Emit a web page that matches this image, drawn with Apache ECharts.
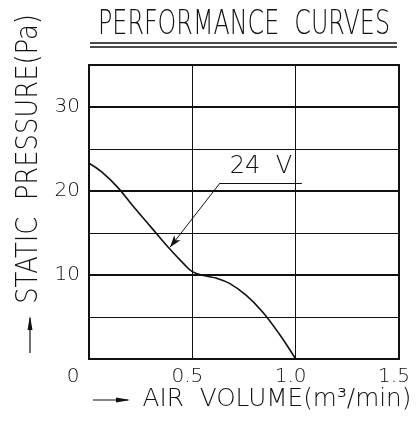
<!DOCTYPE html>
<html lang="en">
<head>
    <meta charset="UTF-8">
    <title>Performance curves</title>
    <script src="https://cdn.jsdelivr.net/npm/echarts@6/dist/echarts.min.js"></script>
    <style>
        * { margin: 0; padding: 0; }
        html, body { height: 100%; background: #fff; }
    </style>
</head>
<body>
<div id="main" style="width: 416px;height: 422px"></div>
<script>
    // air volume (m3/min) vs static pressure (Pa)
    var airVolume = [0, 0.06, 0.14, 0.22, 0.30, 0.38, 0.46, 0.50, 0.56, 0.62, 0.68, 0.76, 0.84, 0.92, 1.0];
    var pressure = [23.3, 22.3, 20.4, 18.0, 15.7, 13.4, 11.3, 10.4, 9.9, 9.6, 9.0, 7.6, 5.6, 3.0, 0];
    var majorLines = [10, 20, 30];
    var yLabels = [10, 20, 30];
    var curveName = '24  V';
    // leader line for the curve label: end of shelf, knee, arrow tip
    var leader = [[1.03, 20.95], [0.634, 20.95], [0.392, 13.3]];

    var font = 'DejaVu Sans';
    var weight = 200;
    var ink = '#111';

    var curve = [];
    for (var i = 0; i < airVolume.length; i++) {
        curve.push([airVolume[i], pressure[i]]);
    }

    var myChart = echarts.init(document.getElementById('main'));

    var option = {
        animation: false,
        grid: {
            left: 89, right: 17, top: 65, bottom: 63,
            show: true, borderColor: ink, borderWidth: 2, backgroundColor: '#fff'
        },
        xAxis: {
            type: 'value', min: 0, max: 1.5, interval: 0.5,
            axisLine: { show: false },
            axisTick: { show: false },
            splitLine: { lineStyle: { color: ink, width: 1 } },
            axisLabel: {
                margin: 8,
                formatter: function (v) {
                    return v === 0 ? '{o|0}' : '{a|' + v.toFixed(1) + '}';
                },
                rich: {
                    a: { fontFamily: font, fontWeight: weight, fontSize: 20, color: ink, padding: [0, 10, 0, 0] },
                    o: { fontFamily: font, fontWeight: weight, fontSize: 20, color: ink, padding: [0, 32, 0, 0] }
                }
            }
        },
        yAxis: {
            type: 'value', min: 0, max: 35, interval: 5,
            axisLine: { show: false },
            axisTick: { show: false },
            splitLine: { lineStyle: { color: ink, width: 1 } },
            axisLabel: {
                margin: 9,
                fontFamily: font, fontWeight: weight, fontSize: 20, color: ink,
                formatter: function (v) {
                    return yLabels.indexOf(v) >= 0 ? String(v) : '';
                }
            }
        },
        series: [
            {
                type: 'line',
                data: [],
                silent: true,
                markLine: {
                    silent: true,
                    symbol: 'none',
                    label: { show: false },
                    lineStyle: { color: ink, width: 2, type: 'solid' },
                    data: majorLines.map(function (v) { return { yAxis: v }; })
                }
            },
            {
                type: 'line',
                data: curve,
                smooth: 0.4,
                showSymbol: false,
                lineStyle: { color: ink, width: 1.6 },
                markLine: {
                    silent: true,
                    lineStyle: { color: ink, width: 1, type: 'solid' },
                    data: [
                        [
                            { coord: leader[0], symbol: 'none' },
                            {
                                coord: leader[1], symbol: 'none',
                                label: {
                                    show: true, position: 'middle', formatter: curveName,
                                    fontFamily: font, fontWeight: weight, fontSize: 24, color: ink, distance: 4
                                }
                            }
                        ],
                        [
                            { coord: leader[1], symbol: 'none' },
                            { coord: leader[2], symbol: 'arrow', symbolSize: [6, 12], label: { show: false } }
                        ]
                    ]
                }
            }
        ],
        graphic: [
            {
                type: 'text', x: 244, y: 25, scaleX: 0.70,
                style: {
                    text: 'PERFORMANCE  CURVES', fontFamily: font, fontWeight: weight, fontSize: 34,
                    fill: ink, align: 'center', verticalAlign: 'middle'
                }
            },
            { type: 'line', shape: { x1: 90, y1: 43, x2: 397, y2: 43 }, style: { stroke: ink, lineWidth: 1.5 } },
            { type: 'line', shape: { x1: 90, y1: 47, x2: 397, y2: 47 }, style: { stroke: ink, lineWidth: 1.5 } },
            {
                type: 'text', x: 29, y: 159, rotation: Math.PI / 2, scaleX: 0.86,
                style: {
                    text: 'STATIC  PRESSURE(Pa)', fontFamily: font, fontWeight: weight, fontSize: 30,
                    fill: ink, align: 'center', verticalAlign: 'middle'
                }
            },
            { type: 'line', shape: { x1: 30, y1: 353, x2: 30, y2: 318 }, style: { stroke: ink, lineWidth: 1.2 } },
            { type: 'polygon', shape: { points: [[27.5, 330], [30, 316], [32.5, 330]] }, style: { fill: ink } },
            {
                type: 'text', x: 277, y: 400, scaleX: 1.03,
                style: {
                    text: 'AIR  VOLUME(m³/min)', fontFamily: font, fontWeight: weight, fontSize: 24,
                    fill: ink, align: 'center', verticalAlign: 'middle'
                }
            },
            { type: 'line', shape: { x1: 93, y1: 400, x2: 128, y2: 400 }, style: { stroke: ink, lineWidth: 1.2 } },
            { type: 'polygon', shape: { points: [[116, 397.5], [130, 400], [116, 402.5]] }, style: { fill: ink } }
        ]
    };

    myChart.setOption(option);
</script>
</body>
</html>
